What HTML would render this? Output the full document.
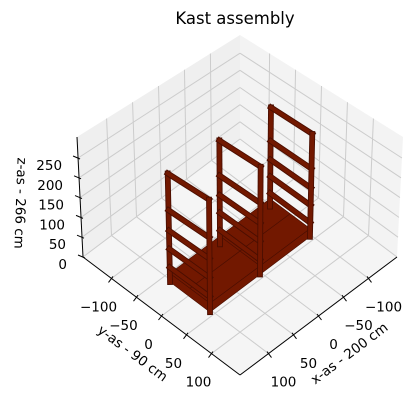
<!DOCTYPE html>
<html><head><meta charset="utf-8"><style>
body{margin:0;background:#fff;}
svg{display:block;font-family:"DejaVu Sans","Liberation Sans",sans-serif;}
</style></head><body>
<svg id="chart" width="418" height="404" viewBox="0 0 418 404" xmlns="http://www.w3.org/2000/svg">
<text x="235" y="24" font-size="16.5" text-anchor="middle" fill="#000">Kast assembly</text>
<g id="panes"></g><g id="grid"></g><g id="axes"></g><g id="model"></g>
<text transform="translate(16,203) rotate(92)" font-size="13.5" text-anchor="middle" fill="#000">z-as - 266 cm</text>
<text transform="translate(130,357) rotate(37)" font-size="13.5" text-anchor="middle" fill="#000">y-as - 90 cm</text>
<text transform="translate(352,357) rotate(-37)" font-size="13.5" text-anchor="middle" fill="#000">x-as - 200 cm</text>
</svg>
<script>
const xTicks=[-100,-50,0,50,100];
const yTicks=[-100,-50,0,50,100];
const zTicks=[0,50,100,150,200,250];
const frameX=[-100,0,100];
const rungZ=[30,75,120,170];
const frameHeight=[260];
const frameWidth=[80];
const platformX=[-100,100];
const platformZ=[0,15];

const L=157, ZT=303;
const NS="http://www.w3.org/2000/svg";
const C={
 '000':[240,139],'100':[83,257],'010':[397,257],'110':[240,375],
 '001':[240,35],'101':[77,137],'011':[403,137],'111':[240,237]};
function P(x,y,z){
 const u=(x+L)/(2*L), v=(y+L)/(2*L), w=z/ZT;
 let px=0,py=0;
 for(const a of [0,1])for(const b of [0,1])for(const c of [0,1]){
  const wt=(a?u:1-u)*(b?v:1-v)*(c?w:1-w);
  const k=C[''+a+b+c]; px+=wt*k[0]; py+=wt*k[1];}
 return [px,py];
}
function mk(tag,attrs,parent){const e=document.createElementNS(NS,tag);for(const k in attrs)e.setAttribute(k,attrs[k]);document.getElementById(parent).appendChild(e);return e;}
function poly(pts,fill,stroke,parent){return mk('polygon',{points:pts.map(p=>p.join(',')).join(' '),fill:fill,stroke:stroke||'none','stroke-width':0.6,'stroke-linejoin':'round'},parent);}
function line(a,b,stroke,w,parent){return mk('line',{x1:a[0],y1:a[1],x2:b[0],y2:b[1],stroke:stroke,'stroke-width':w,'stroke-linecap':'butt'},parent);}

let e;
e=poly([P(L,-L,0),P(-L,-L,0),P(-L,-L,ZT),P(L,-L,ZT)],'#efefef',null,'panes');


e=poly([P(-L,-L,0),P(-L,L,0),P(-L,L,ZT),P(-L,-L,ZT)],'#f3f3f3',null,'panes');


e=poly([P(L,-L,0),P(-L,-L,0),P(-L,L,0),P(L,L,0)],'#f5f5f5',null,'panes');



const gc='#cccccc';
xTicks.forEach(t=>{
 e=line(P(t,-L,0),P(t,L,0),gc,1,'grid');
 e=line(P(t,-L,0),P(t,-L,ZT),gc,1,'grid');
});
yTicks.forEach(t=>{
 e=line(P(-L,t,0),P(L,t,0),gc,1,'grid');
 e=line(P(-L,t,0),P(-L,t,ZT),gc,1,'grid');
});
zTicks.forEach(t=>{
 e=line(P(L,-L,t),P(-L,-L,t),gc,1,'grid');
 e=line(P(-L,-L,t),P(-L,L,t),gc,1,'grid');
});

e=line(P(L,-L,0),P(L,-L,ZT),'#000',1,'axes');
e=line(P(L,-L,0),P(L,L,0),'#000',1,'axes');
e=line(P(L,L,0),P(-L,L,0),'#000',1,'axes');
function txt(s,x,y,anchor,name){const t=mk('text',{x:x,y:y,'font-size':13.5,'text-anchor':anchor,fill:'#000'},'axes');t.textContent=s;
 
 }
function fmt(t){return t<0?'\u2212'+(-t):''+t;}
xTicks.forEach(t=>{const p=P(t,L,0);
 e=line([p[0]-1.5,p[1]-2],[p[0]+3,p[1]+4],'#000',1,'axes');
 txt(fmt(t),p[0]+15,p[1]+33,'middle','x-tick-label');});
yTicks.forEach(t=>{const p=P(L,t,0);
 e=line([p[0]+1.5,p[1]-2],[p[0]-3,p[1]+4],'#000',1,'axes');
 txt(fmt(t),p[0]-13,p[1]+33,'middle','y-tick-label');});
zTicks.forEach(t=>{const p=P(L,-L,t);
 e=line([p[0]+2,p[1]+1],[p[0]-5,p[1]-2],'#000',1,'axes');
 txt(fmt(t),p[0]-16,p[1]+12,'end','z-tick-label');});

const FILL='#721800', EDGE='#4a0e00';
const x0=platformX[0],x1=platformX[1],z0=platformZ[0],z1=platformZ[1];
const hw=frameWidth[0]/2, H=frameHeight[0];
e=poly([P(x0,-hw,z1),P(x1,-hw,z1),P(x1,hw,z1),P(x0,hw,z1)],FILL,EDGE,'model');


e=poly([P(x1,-hw,z0-6),P(x1,hw,z0-6),P(x1,hw,z1),P(x1,-hw,z1)],FILL,EDGE,'model');


e=poly([P(x0,hw,z0-6),P(x1,hw,z0-6),P(x1,hw,z1),P(x0,hw,z1)],FILL,EDGE,'model');


e=line(P(x0,0,z1),P(x1,0,z1),EDGE,0.7,'model');
e=line(P(0,-hw,z1),P(0,hw,z1),EDGE,0.7,'model');

function beam(a,b,name){
 const g=mk('g',{},'model');
 
 
 const o=mk('line',{x1:a[0],y1:a[1],x2:b[0],y2:b[1],stroke:EDGE,'stroke-width':5.8,'stroke-linecap':'square'},'model');
 const i=mk('line',{x1:a[0],y1:a[1],x2:b[0],y2:b[1],stroke:FILL,'stroke-width':4,'stroke-linecap':'square'},'model');
 g.appendChild(o);g.appendChild(i);
}
frameX.forEach((fx,fi)=>{
 beam(P(fx,-hw,-6),P(fx,-hw,H),'frame-post-back');
 rungZ.forEach(z=>beam(P(fx,-hw,z),P(fx,hw,z),'frame-rung'));
 beam(P(fx,-hw,H),P(fx,hw,H),'frame-top-rail');
 beam(P(fx,hw,-6),P(fx,hw,H),'frame-post-front');
});
</script>
</body></html>
